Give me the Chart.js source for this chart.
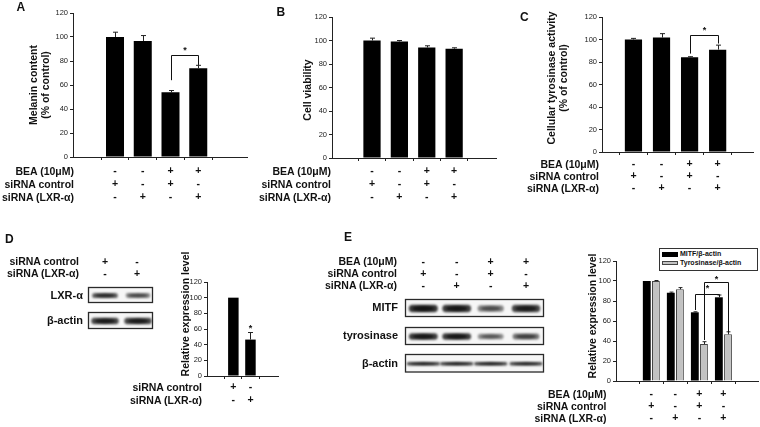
<!DOCTYPE html>
<html>
<head>
<meta charset="utf-8">
<script src="https://cdn.jsdelivr.net/npm/chart.js@4.4.1/dist/chart.umd.min.js"></script>
<style>
  html, body { margin: 0; padding: 0; background: #fff; }
  #fig { position: relative; width: 760px; height: 427px; overflow: hidden; font-family: "Liberation Sans", Arial, sans-serif; color: #111; }
  #fig canvas { position: absolute; }
  .t { position: absolute; font-weight: bold; white-space: nowrap; }
  #legendE { position: absolute; border: 1px solid #333; background: #fff; }
  #legendE .it { position: absolute; font-size: 7px; font-weight: bold; line-height: 8px; white-space: nowrap; color: #111; }
  #legendE .sw { position: absolute; box-sizing: border-box; }
</style>
</head>
<body>
<div id="fig">
  <canvas id="blots" width="760" height="427" style="left:0;top:0"></canvas>
</div>
<script>
// ==== Data ====
const rowNames = ['BEA (10μM)', 'siRNA control', 'siRNA (LXR-α)'];
const beaRow = ['-', '-', '+', '+'];
const ctrlRow = ['+', '-', '+', '-'];
const lxrRow = ['-', '+', '-', '+'];
const yTicks = [0, 20, 40, 60, 80, 100, 120];

const melanin = [100, 96.7, 53.9, 73.9];
const melaninErr = [4, 4.5, 1.5, 2.5];
const viability = [100, 99.2, 94, 93];
const viabilityErr = [2, 0.8, 1.5, 0.8];
const tyrActivity = [100, 101.7, 84.2, 91];
const tyrActivityErr = [1, 3.5, 0.5, 4];

const dCtrlRow = ['+', '-'];
const dLxrRow = ['-', '+'];
const lxrLevel = [100, 46.5];
const lxrLevelErr = [0, 9];

const mitfLevel = [100, 88.3, 68.7, 83.7];
const mitfErr = [0, 0.6, 0.5, 2.3];
const tyrLevel = [100, 91.7, 37, 46.7];
const tyrErr = [0.5, 1.7, 2.3, 2.5];

// blot band intensities (0..1)
const dLxrBands = [0.8, 0.62];
const dActinBands = [0.92, 0.92];
const eMitfBands = [1, 0.97, 0.6, 0.92];
const eTyrBands = [0.97, 0.97, 0.55, 0.68];
const eActinBands = [0.9, 0.9, 0.9, 0.88];

Chart.defaults.font.family = '"Liberation Sans", Arial, sans-serif';
Chart.defaults.color = '#111';

const fig = document.getElementById('fig');

// ==== helpers ====
function addText(txt, x, y, o = {}) {
  const el = document.createElement('div');
  el.className = 't';
  const size = o.size || 10.5;
  const lh = o.lh || Math.round(size * 1.2);
  el.style.fontSize = size + 'px';
  el.style.lineHeight = lh + 'px';
  if (Array.isArray(txt)) el.innerHTML = txt.join('<br>'); else el.textContent = txt;
  if (o.rotate) {
    el.style.left = x + 'px'; el.style.top = y + 'px';
    el.style.textAlign = 'center';
    el.style.transform = 'translate(-50%, -50%) rotate(-90deg)';
  } else if (o.align === 'right') {
    el.style.right = (760 - x) + 'px'; el.style.top = (y - lh / 2) + 'px';
  } else if (o.align === 'center') {
    el.style.left = x + 'px'; el.style.top = (y - lh / 2) + 'px';
    el.style.transform = 'translateX(-50%)';
  } else {
    el.style.left = x + 'px'; el.style.top = (y - lh / 2) + 'px';
  }
  fig.appendChild(el);
  return el;
}

// error bars (upper only, with cap)
const errorBars = {
  id: 'errorBars',
  afterDatasetsDraw(chart) {
    const { ctx } = chart;
    const y = chart.scales.y;
    ctx.save();
    ctx.strokeStyle = '#222';
    ctx.lineWidth = 1;
    chart.data.datasets.forEach((ds, d) => {
      if (!ds.errors) return;
      chart.getDatasetMeta(d).data.forEach((bar, i) => {
        const e = ds.errors[i];
        if (!e) return;
        const top = y.getPixelForValue(ds.data[i].y + e);
        const cap = Math.min(2.5, bar.width / 4);
        const bx = Math.round(bar.x) + 0.5;
        ctx.beginPath();
        ctx.moveTo(bx, bar.y);
        ctx.lineTo(bx, top);
        ctx.moveTo(bx - cap, top);
        ctx.lineTo(bx + cap, top);
        ctx.stroke();
      });
    });
    ctx.restore();
  }
};

// significance brackets and stars
function sigMarks(items) {
  return {
    id: 'sigMarks',
    afterDatasetsDraw(chart) {
      const { ctx } = chart;
      const y = chart.scales.y;
      ctx.save();
      ctx.strokeStyle = '#111';
      ctx.fillStyle = '#111';
      ctx.lineWidth = 1;
      ctx.font = 'bold 9px "Liberation Sans", Arial';
      ctx.textAlign = 'center';
      ctx.textBaseline = 'middle';
      items.forEach(b => {
        const bars = chart.getDatasetMeta(b.ds).data;
        const x1 = Math.round(bars[b.from].x) + 0.5;
        if (b.to !== undefined) {
          const x2 = Math.round(bars[b.to].x) + 0.5;
          const yt = Math.round(y.getPixelForValue(b.top)) + 0.5;
          ctx.beginPath();
          ctx.moveTo(x1, y.getPixelForValue(b.left));
          ctx.lineTo(x1, yt);
          ctx.lineTo(x2, yt);
          ctx.lineTo(x2, y.getPixelForValue(b.right));
          ctx.stroke();
          ctx.fillText('*', (x1 + x2) / 2, y.getPixelForValue(b.star) + 2);
        } else {
          ctx.fillText('*', x1, y.getPixelForValue(b.star) + 2);
        }
      });
      ctx.restore();
    }
  };
}

function makeBarChart(p) {
  const cv = document.createElement('canvas');
  cv.width = p.box[2];
  cv.height = p.box[3];
  cv.style.left = p.box[0] + 'px';
  cv.style.top = p.box[1] + 'px';
  fig.appendChild(cv);
  return new Chart(cv, {
    type: 'bar',
    data: {
      datasets: p.series.map(s => ({
        label: s.label,
        data: s.values.map((v, i) => ({ x: i + 1, y: v })),
        errors: s.errors,
        backgroundColor: s.fill,
        borderColor: s.stroke || s.fill,
        borderWidth: s.stroke ? 1 : 0,
        categoryPercentage: p.catPct,
        barPercentage: p.barPct
      }))
    },
    options: {
      responsive: false,
      animation: false,
      events: [],
      layout: { padding: { top: 8, right: 2, left: 0, bottom: 0 } },
      plugins: { legend: { display: false }, tooltip: { enabled: false } },
      scales: {
        x: {
          type: 'linear',
          min: p.xMin,
          max: p.xMax,
          afterBuildTicks: s => { s.ticks = p.rows[0].map((_, i) => ({ value: i + 1 })); },
          afterFit: s => { s.height = p.xH; },
          grid: { drawOnChartArea: false, drawTicks: true, tickLength: 3, color: '#222' },
          border: { color: '#222', width: 1 },
          ticks: {
            autoSkip: false,
            maxRotation: 0,
            padding: p.rowPad,
            color: '#111',
            font: { size: 10.5, weight: 'bold', lineHeight: p.rowH + 'px' },
            callback: v => p.rows.map(r => r[Math.round(v) - 1] || '')
          }
        },
        y: {
          min: 0,
          max: 120,
          afterBuildTicks: s => { s.ticks = yTicks.map(v => ({ value: v })); },
          afterFit: s => { s.width = 20; },
          grid: { drawOnChartArea: false, tickLength: 3, color: '#222' },
          border: { color: '#222', width: 1 },
          ticks: { padding: 2, color: '#222', font: { size: 7.5 } }
        }
      }
    },
    plugins: [errorBars, sigMarks(p.marks || [])]
  });
}

// ==== Panel A ====
makeBarChart({
  box: [53, 5, 196, 204], xMin: 0.27, xMax: 4.973, xH: 52, rowPad: 4.5, rowH: 13,
  catPct: 1, barPct: 0.649,
  rows: [beaRow, ctrlRow, lxrRow],
  series: [{ label: 'Melanin', values: melanin, errors: melaninErr, fill: '#000' }],
  marks: [{ ds: 0, from: 2, to: 3, left: 64, top: 85, right: 76.7, star: 90 }]
});
addText(['Melanin content', '(% of control)'], 39, 85, { rotate: true, lh: 12 });
addText('A', 16.5, 7, { size: 12, lh: 12 });
rowNames.forEach((t, i) => addText(t, 74, 171 + 13 * i, { align: 'right', lh: 13 }));

// ==== Panel B ====
makeBarChart({
  box: [312, 9, 186, 201], xMin: 0.288, xMax: 4.78, xH: 52, rowPad: 3.5, rowH: 13,
  catPct: 1, barPct: 0.63,
  rows: [beaRow, ctrlRow, lxrRow],
  series: [{ label: 'Viability', values: viability, errors: viabilityErr, fill: '#000' }]
});
addText('Cell viability', 307, 89.5, { rotate: true, lh: 12 });
addText('B', 276.5, 11.5, { size: 12, lh: 12 });
rowNames.forEach((t, i) => addText(t, 331, 171 + 13 * i, { align: 'right', lh: 13 }));

// ==== Panel C ====
makeBarChart({
  box: [582, 9, 173, 191], xMin: 0.552, xMax: 4.587, xH: 48, rowPad: 3.3, rowH: 12,
  catPct: 1, barPct: 0.613,
  rows: [beaRow, ctrlRow, lxrRow],
  series: [{ label: 'Tyrosinase activity', values: tyrActivity, errors: tyrActivityErr, fill: '#000' }],
  marks: [{ ds: 0, from: 2, to: 3, left: 87.5, top: 104.4, right: 96.4, star: 110 }]
});
addText(['Cellular tyrosinase activity', '(% of control)'], 557.3, 77.5, { rotate: true, lh: 11.5 });
addText('C', 520, 16.5, { size: 12, lh: 12 });
rowNames.forEach((t, i) => addText(t, 599, 164 + 12 * i, { align: 'right', lh: 12 }));

// ==== Panel D ====
makeBarChart({
  box: [187, 274, 93, 136], xMin: 0.497, xMax: 2.573, xH: 34, rowPad: 1.4, rowH: 13.3,
  catPct: 1, barPct: 0.614,
  rows: [dCtrlRow, dLxrRow],
  series: [{ label: 'LXR-α', values: lxrLevel, errors: lxrLevelErr, fill: '#000' }],
  marks: [{ ds: 0, from: 1, star: 62.6 }]
});
addText('Relative expression level', 185, 314, { rotate: true, lh: 12 });
addText('D', 5, 238.5, { size: 12, lh: 12 });
addText(rowNames[1], 202, 387, { align: 'right', lh: 13 });
addText(rowNames[2], 202, 400.3, { align: 'right', lh: 13 });
// blot header
addText(rowNames[1], 79, 261, { align: 'right', lh: 13 });
addText(rowNames[2], 79, 273, { align: 'right', lh: 13 });
[105, 137].forEach((x, i) => {
  addText(dCtrlRow[i], x, 261, { align: 'center', lh: 13 });
  addText(dLxrRow[i], x, 273, { align: 'center', lh: 13 });
});
addText('LXR-α', 83, 295, { align: 'right', size: 11, lh: 13 });
addText('β-actin', 83, 320.5, { align: 'right', size: 11, lh: 13 });

// ==== Panel E ====
const chartE = makeBarChart({
  box: [596, 253, 164, 172], xMin: 0.268, xMax: 4.70, xH: 44, rowPad: 3.9, rowH: 12.2,
  catPct: 0.76, barPct: 0.86,
  rows: [beaRow, ctrlRow, lxrRow],
  series: [
    { label: 'MITF/β-actin', values: mitfLevel, errors: mitfErr, fill: '#000' },
    { label: 'Tyrosinase/β-actin', values: tyrLevel, errors: tyrErr, fill: '#c2c2c2', stroke: '#444' }
  ],
  marks: [
    { ds: 0, from: 2, to: 3, left: 71, top: 87, right: 85, star: 94.3 },
    { ds: 1, from: 2, to: 3, left: 41, top: 98.7, right: 48.7, star: 103 }
  ]
});
addText('Relative expression level', 591.5, 315.5, { rotate: true, lh: 12 });
addText('E', 344, 236.5, { size: 12, lh: 12 });
rowNames.forEach((t, i) => addText(t, 606.5, 394 + 12.2 * i, { align: 'right', lh: 12 }));
// blot header
const eLanes = [423.3, 456.7, 490.7, 526];
rowNames.forEach((t, i) => addText(t, 397, 261 + 12 * i, { align: 'right', lh: 12 }));
eLanes.forEach((x, i) => {
  addText(beaRow[i], x, 261, { align: 'center', lh: 12 });
  addText(ctrlRow[i], x, 273, { align: 'center', lh: 12 });
  addText(lxrRow[i], x, 285, { align: 'center', lh: 12 });
});
addText('MITF', 398, 307.5, { align: 'right', size: 11, lh: 13 });
addText('tyrosinase', 398, 335.5, { align: 'right', size: 11, lh: 13 });
addText('β-actin', 398, 363, { align: 'right', size: 11, lh: 13 });

// legend for E, built from its datasets
(function buildLegend() {
  const box = document.createElement('div');
  box.id = 'legendE';
  box.style.left = '659px'; box.style.top = '248px';
  box.style.width = '97px'; box.style.height = '21px';
  chartE.data.datasets.forEach((ds, i) => {
    const sw = document.createElement('div');
    sw.className = 'sw';
    sw.style.left = '2px'; sw.style.top = (3 + 8.5 * i) + 'px';
    sw.style.width = '16px'; sw.style.height = '4.5px';
    sw.style.background = ds.backgroundColor;
    sw.style.border = '1px solid ' + ds.borderColor;
    const it = document.createElement('div');
    it.className = 'it';
    it.style.left = '20px'; it.style.top = (1.3 + 8.5 * i) + 'px';
    it.textContent = ds.label;
    box.appendChild(sw); box.appendChild(it);
  });
  fig.appendChild(box);
})();

// ==== Western blots ====
const bctx = document.getElementById('blots').getContext('2d');
function drawBlot(box, lanes, bands, bandW, bandH) {
  const [x, y, w, h] = box;
  bctx.fillStyle = '#f6f6f6';
  bctx.fillRect(x, y, w, h);
  bands.forEach((v, i) => {
    const cx = lanes[i], cy = y + h / 2 + 0.5;
    const bw = bandW * (0.75 + 0.25 * v);
    const bh = bandH * (0.7 + 0.3 * v);
    bctx.save();
    bctx.filter = 'blur(1px)';
    bctx.fillStyle = `rgba(25,25,25,${v * 0.85})`;
    bctx.beginPath();
    bctx.roundRect(cx - bw / 2, cy - bh / 2, bw, bh, bh / 2);
    bctx.fill();
    bctx.fillStyle = `rgba(5,5,5,${v * 0.75})`;
    bctx.beginPath();
    bctx.ellipse(cx, cy, bw * 0.38, bh * 0.34, 0, 0, Math.PI * 2);
    bctx.fill();
    bctx.restore();
  });
  bctx.strokeStyle = '#2a2a2a';
  bctx.lineWidth = 1.3;
  bctx.strokeRect(x + 0.5, y + 0.5, w - 1, h - 1);
}
drawBlot([88, 287, 65, 16], [105, 138], dLxrBands, 27, 5.5);
drawBlot([88, 312, 65, 17], [105, 138], dActinBands, 28, 6.5);
drawBlot([405, 299, 139, 18], eLanes, eMitfBands, 29, 7.5);
drawBlot([405, 327, 139, 18], eLanes, eTyrBands, 29, 6.5);
drawBlot([405, 354, 139, 18.5], eLanes, eActinBands, 34, 3.5);
</script>
</body>
</html>
